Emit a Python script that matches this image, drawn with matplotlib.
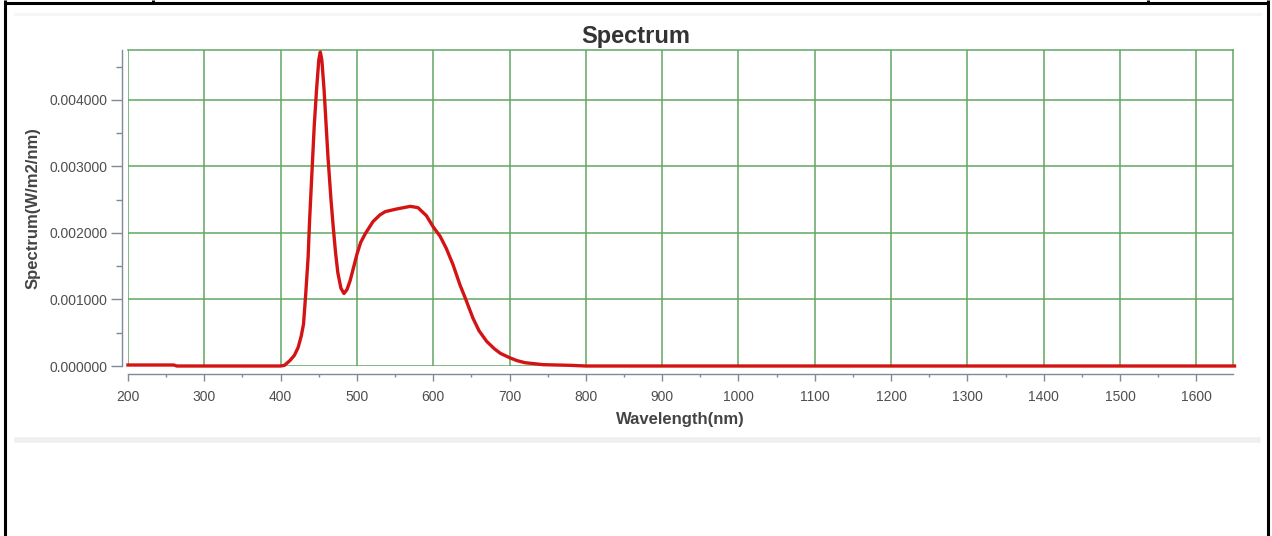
import matplotlib.pyplot as plt
from matplotlib.lines import Line2D
from matplotlib.ticker import MultipleLocator, FormatStrFormatter

# spectrum
wavelength = [200, 260, 264, 300, 400, 405, 412, 418, 423, 427, 430, 433, 436, 438, 441, 444,
              447, 450, 452, 454, 457, 462, 466, 469, 472, 475, 479, 483, 487, 491, 496,
              500, 505, 511, 521, 530, 537, 552, 570, 580, 591, 600, 609, 617, 626, 635,
              642, 652, 660, 670, 680, 688, 700, 710, 720, 744, 780, 800, 1650]
spectrum = [0.000015, 0.000015, 0.0, 0.0, 0.0, 0.00001, 0.00008, 0.00016, 0.00028, 0.00045,
            0.00063, 0.0011, 0.00163, 0.0022, 0.0029, 0.0036, 0.00414, 0.0046, 0.00472, 0.0046,
            0.00414, 0.00315, 0.0025, 0.00208, 0.0017, 0.0014, 0.00117, 0.00109, 0.00115,
            0.00128, 0.0015, 0.00168, 0.00186, 0.00199, 0.00217, 0.00227, 0.00232, 0.00236,
            0.0024, 0.00238, 0.00226, 0.00209, 0.00195, 0.00177, 0.00152, 0.00122, 0.00102,
            0.00072, 0.00053, 0.00037, 0.00026, 0.00019, 0.000125, 0.00008, 0.00005,
            0.00002, 0.00001, 0.0, 0.0]

W, H = 1272, 536
GRID = "#62a562"
AXIS = "#7d8b98"
TEXT = "#4e4e4e"

plt.rcParams["font.family"] = ["Liberation Sans", "DejaVu Sans"]

fig = plt.figure(figsize=(W / 100, H / 100), dpi=100)
fig.patch.set_facecolor("white")

# plot box in pixels: left 128, right 1233, top 50, bottom 366
left, right, top, bottom = 128, 1233, 50, 366
ax = fig.add_axes([left / W, 1 - bottom / H, (right - left) / W, (bottom - top) / H])

ax.plot(wavelength, spectrum, color="#d41414", linewidth=2.4, clip_on=False, zorder=5,
        solid_joinstyle="round")

ax.set_xlim(200, 1648)
ax.set_ylim(0, 0.00475)
ax.xaxis.set_major_locator(MultipleLocator(100))
ax.xaxis.set_minor_locator(MultipleLocator(50))
ax.yaxis.set_major_locator(MultipleLocator(0.001))
ax.yaxis.set_minor_locator(MultipleLocator(0.0005))
ax.yaxis.set_major_formatter(FormatStrFormatter("%.6f"))

ax.grid(True, which="major", color=GRID, linewidth=1.1)
ax.set_axisbelow(True)

for side in ("top", "right"):
    ax.spines[side].set_color(GRID)
    ax.spines[side].set_linewidth(1.1)
for side in ("left", "bottom"):
    ax.spines[side].set_color(AXIS)
    ax.spines[side].set_linewidth(1.0)
ax.spines["bottom"].set_position(("outward", 6))
ax.spines["left"].set_position(("outward", 4))

ax.tick_params(axis="both", which="major", colors=AXIS, labelcolor=TEXT, labelsize=10)
ax.tick_params(axis="x", which="major", length=5, width=1, pad=6)
ax.tick_params(axis="x", which="minor", length=2, width=1, colors=AXIS)
ax.tick_params(axis="y", which="major", length=8, width=1, pad=3)
ax.tick_params(axis="y", which="minor", length=4, width=1, colors=AXIS)

ax.set_xlabel("Wavelength(nm)", fontsize=12, fontweight="bold", color="#444444", labelpad=6)
ax.set_ylabel("Spectrum(W/m2/nm)", fontsize=12, fontweight="bold", color="#444444", labelpad=6)
fig.text(636 / W, 1 - 37 / H, "Spectrum", ha="center", va="center",
         fontsize=17, fontweight="bold", color="#333333")

# faint bands of the embedded screenshot
fig.add_artist(Line2D([15 / W, 1260 / W], [1 - 14 / H, 1 - 14 / H], color="#f5f5f5", linewidth=2))
fig.add_artist(Line2D([17 / W, 1258 / W], [1 - 440 / H, 1 - 440 / H], color="#efefef", linewidth=4))

# table frame around the picture
frame = dict(color="black", linewidth=2.2, solid_capstyle="butt")
fig.add_artist(Line2D([5 / W, 5 / W], [0, 1], **frame))
fig.add_artist(Line2D([1268 / W, 1268 / W], [0, 1], **frame))
fig.add_artist(Line2D([4 / W, 1269 / W], [1 - 3 / H, 1 - 3 / H], **frame))
fig.add_artist(Line2D([153 / W, 153 / W], [1 - 3 / H, 1], **frame))
fig.add_artist(Line2D([1148 / W, 1148 / W], [1 - 3 / H, 1], **frame))

fig.savefig("out.png", dpi=100)
